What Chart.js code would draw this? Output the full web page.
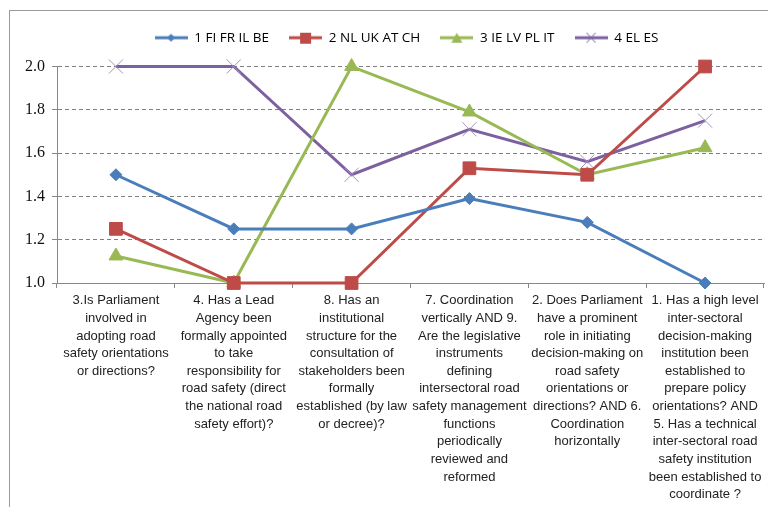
<!DOCTYPE html>
<html>
<head>
<meta charset="utf-8">
<script src="https://cdn.jsdelivr.net/npm/chart.js@4"></script>
<style>
  html, body { margin: 0; padding: 0; background: #fff; overflow: hidden; }
  body { width: 768px; height: 507px; position: relative; }
  #box {
    position: absolute; left: 9px; top: 10px;
    width: 765px; height: 496px;
    border-left: 1px solid #9a9a9a; border-top: 1px solid #9a9a9a;
  }
</style>
</head>
<body>
<div id="box"><canvas id="chart" width="765" height="496"></canvas></div>
<script>
// categories (questions)
const categories = [
  ["3.Is Parliament", "involved in", "adopting road", "safety orientations", "or directions?"],
  ["4. Has a Lead", "Agency been", "formally appointed", "to take", "responsibility for", "road safety (direct", "the national road", "safety effort)?"],
  ["8. Has an", "institutional", "structure for the", "consultation of", "stakeholders been", "formally", "established (by law", "or decree)?"],
  ["7. Coordination", "vertically AND 9.", "Are the legislative", "instruments", "defining", "intersectoral road", "safety management", "functions", "periodically", "reviewed and", "reformed"],
  ["2. Does Parliament", "have a prominent", "role in initiating", "decision-making on", "road safety", "orientations or", "directions? AND 6.", "Coordination", "horizontally"],
  ["1. Has a high level", "inter-sectoral", "decision-making", "institution been", "established to", "prepare policy", "orientations? AND", "5. Has a technical", "inter-sectoral road", "safety institution", "been established to", "coordinate ?"]
];

const seriesNames = ["1 FI FR IL BE", "2 NL UK AT CH", "3 IE LV PL IT", "4 EL ES"];
const group1 = [1.5, 1.25, 1.25, 1.39, 1.28, 1.0];
const group2 = [1.25, 1.0, 1.0, 1.53, 1.5, 2.0];
const group3 = [1.125, 1.0, 2.0, 1.79, 1.5, 1.625];
const group4 = [2.0, 2.0, 1.5, 1.71, 1.56, 1.75];
const yTicks = [1.0, 1.2, 1.4, 1.6, 1.8, 2.0];

const colors = ["#4a7ebb", "#be4b48", "#98b954", "#7d60a0"];
const markers = ["rectRot", "rect", "triangle", "crossRot"];
const radii = [6, 9, 8, 10];

// legend icon: short line with the marker in the middle
function legendIcon(color, style) {
  const c = document.createElement("canvas");
  c.width = 33; c.height = 14;
  const ctx = c.getContext("2d");
  ctx.strokeStyle = color;
  ctx.fillStyle = color;
  ctx.lineWidth = 3;
  ctx.beginPath(); ctx.moveTo(0, 7); ctx.lineTo(33, 7); ctx.stroke();
  ctx.beginPath();
  if (style === "rectRot") {
    ctx.moveTo(16.5, 3); ctx.lineTo(20.5, 7); ctx.lineTo(16.5, 11); ctx.lineTo(12.5, 7); ctx.closePath(); ctx.fill();
  } else if (style === "rect") {
    ctx.fillRect(11, 2, 11, 11);
  } else if (style === "triangle") {
    ctx.moveTo(16.5, 2); ctx.lineTo(22, 12); ctx.lineTo(11, 12); ctx.closePath(); ctx.fill();
  } else {
    ctx.lineWidth = 1;
    ctx.moveTo(12, 2); ctx.lineTo(21, 12); ctx.moveTo(21, 2); ctx.lineTo(12, 12); ctx.stroke();
  }
  return c;
}

const allSeries = [group1, group2, group3, group4];
const datasets = allSeries.map((vals, i) => ({
  label: seriesNames[i],
  data: vals,
  borderColor: colors[i],
  backgroundColor: colors[i],
  borderWidth: 3,
  pointStyle: markers[i],
  pointRadius: radii[i],
  pointBorderWidth: 1,
  pointBorderColor: markers[i] === "crossRot" ? "#a493c4" : colors[i],
  clip: false,
  tension: 0
}));

new Chart(document.getElementById("chart").getContext("2d"), {
  type: "line",
  data: { labels: categories, datasets: datasets },
  options: {
    responsive: false,
    animation: false,
    layout: { padding: { left: 0, right: 0, top: 0, bottom: 0 } },
    plugins: {
      tooltip: { enabled: false },
      legend: {
        position: "top",
        labels: {
          usePointStyle: true,
          pointStyleWidth: 33,
          boxHeight: 14,
          padding: 20,
          color: "#222",
          font: { family: "'Open Sans', sans-serif", size: 13.5 },
          generateLabels: (chart) => chart.data.datasets.map((ds, i) => ({
            text: ds.label,
            pointStyle: legendIcon(colors[i], markers[i]),
            fillStyle: colors[i],
            strokeStyle: colors[i],
            lineWidth: 0,
            datasetIndex: i,
            hidden: false
          }))
        }
      }
    },
    scales: {
      x: {
        offset: true,
        grid: {
          offset: true,
          drawOnChartArea: false,
          drawTicks: true,
          tickLength: 5,
          color: "#888"
        },
        border: { color: "#888", width: 1 },
        ticks: {
          autoSkip: false,
          maxRotation: 0,
          color: "#222",
          padding: 4,
          font: { family: "'Liberation Sans', sans-serif", size: 13, lineHeight: 1.355 }
        },
        afterFit: (scale) => {
          scale.height = 224;
          scale.paddingLeft = 0;
          scale.paddingRight = 0;
        }
      },
      y: {
        min: 1.0,
        max: 2.0,
        afterBuildTicks: (scale) => { scale.ticks = yTicks.map(v => ({ value: v })); },
        ticks: {
          color: "#111",
          padding: 7,
          font: { family: "'Liberation Serif', serif", size: 16 },
          callback: (v) => Number(v).toFixed(1)
        },
        grid: {
          color: "#808080",
          tickLength: 5,
          tickColor: "#888",
          drawTicks: true
        },
        border: { color: "#888", dash: [4, 3] },
        afterFit: (scale) => { scale.width = 47; }
      }
    }
  },
  plugins: [{
    // legend sits a bit to the right and has more room under it in the original
    id: "legendTweak",
    afterInit(chart) {
      const lg = chart.legend;
      const fit = lg.fit.bind(lg);
      lg.fit = function () { fit(); this.height += 12; };
      const draw = lg.draw.bind(lg);
      lg.draw = function () {
        const ctx = this.ctx;
        ctx.save();
        ctx.translate(14, 0);
        draw();
        ctx.restore();
      };
    }
  }]
});
</script>
</body>
</html>
